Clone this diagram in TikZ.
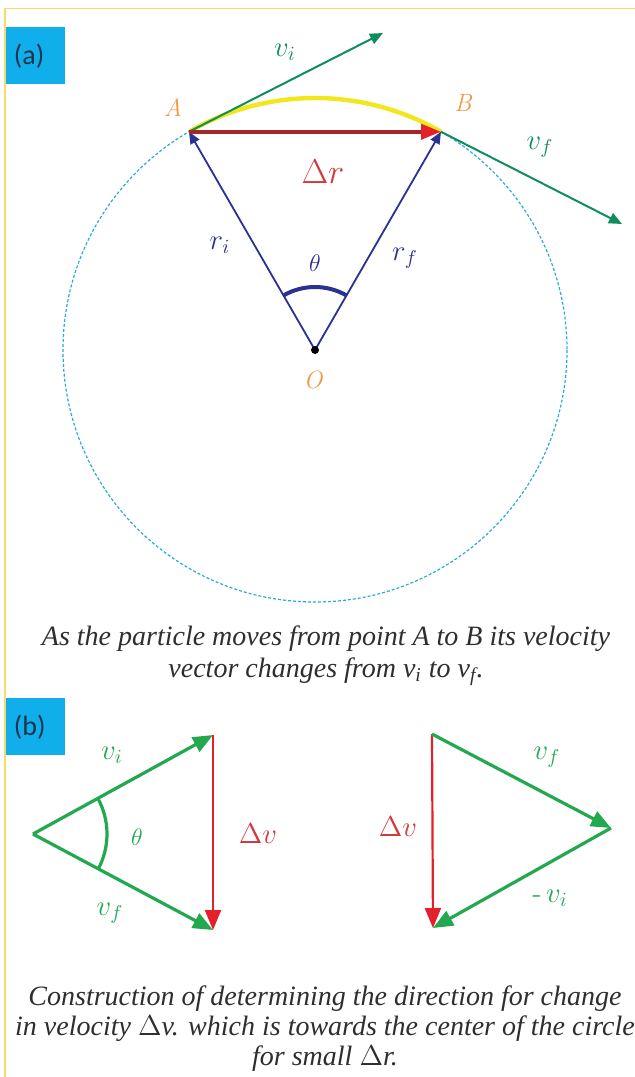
\documentclass[tikz,border=0pt]{standalone}
\usepackage{amsmath}
\usepackage{fontspec}
\newfontfamily\tagfont{Carlito}
\newfontfamily\capfont{Liberation Serif}
\usepackage{xcolor}
\definecolor{frameYellow}{HTML}{F3DC6B}
\definecolor{tagBlue}{HTML}{10AEEA}
\definecolor{tagInk}{HTML}{1B3550}
\definecolor{orbitBlue}{HTML}{2AA9DF}
\definecolor{velTeal}{HTML}{0E8E5C}
\definecolor{velGreen}{HTML}{22A84F}
\definecolor{radNavy}{HTML}{2B3190}
\definecolor{chordRed}{HTML}{A3262B}
\definecolor{headRed}{HTML}{E4202A}
\definecolor{txtRed}{HTML}{D2383C}
\definecolor{ptOrange}{HTML}{EE9A45}
\definecolor{pathYellow}{HTML}{F2E61C}
\definecolor{capGray}{HTML}{2E2E2E}
\usetikzlibrary{arrows.meta, positioning, calc}

\begin{document}
\begin{tikzpicture}[x=0.5pt, y=-0.5pt,
  tag/.style={fill=tagBlue, text=tagInk, font=\tagfont\fontsize{14}{16}\selectfont, anchor=north west, minimum width=29.5pt, minimum height=28.5pt, text width=22pt, align=left, inner xsep=3.5pt, inner ysep=0pt},
  ptlbl/.style={text=ptOrange, font=\fontsize{12.5}{14}\selectfont\itshape},
  vlbl/.style={text=velGreen, font=\fontsize{14}{16}\selectfont},
  rlbl/.style={text=radNavy, font=\fontsize{14}{16}\selectfont},
  dlbl/.style={text=txtRed, font=\fontsize{15}{17}\selectfont},
  captxt/.style={text=capGray, font=\capfont\fontsize{14}{16}\selectfont\itshape, align=center},
  orbit/.style={orbitBlue, line width=0.6pt, dash pattern=on 1.5pt off 1pt},
  vela/.style={velTeal, line width=1pt, -{Triangle[length=6.5pt, width=5.5pt]}},
  rad/.style={radNavy, line width=0.9pt, -{Triangle[length=6pt, width=5pt]}},
  velb/.style={velGreen, line width=1.6pt, -{Triangle[length=10pt, width=8pt]}},
  dvec/.style={headRed, line width=1.1pt, -{Triangle[length=10pt, width=8pt]}}
]
  \useasboundingbox (0,0) rectangle (635,1077);
  \draw[frameYellow, line width=0.8pt] (5,1077) -- (5,8.5) -- (635,8.5);

  \node[tag] (taga) at (6,27) {(a)};
  \coordinate (O) at (315,350);
  \coordinate (A) at ($(O)+(-120:252)$);
  \coordinate (B) at ($(O)+(-60:252)$);
  \coordinate (viEnd) at (383,33);
  \coordinate (vfEnd) at (622,224);

  \draw[orbit] (O) circle[radius=252];
  \draw[pathYellow, line width=2.2pt] (A) arc[start angle=-120, end angle=-60, radius=252];
  \draw[vela] (A) -- (viEnd);
  \draw[vela] (B) -- (vfEnd);
  \draw[rad] (O) -- (A);
  \draw[rad] (O) -- (B);
  \draw[chordRed, line width=2pt, -{Triangle[length=10pt, width=7.5pt, color=headRed]}] (A) -- (B);
  \draw[radNavy, line width=2pt] ($(O)+(-120:63)$) arc[start angle=-120, end angle=-60, radius=63];
  \fill (O) circle[radius=4];

  \node[ptlbl] (lblA) at (173,108) {A};
  \node[ptlbl] (lblB) at (463,103) {B};
  \node[ptlbl] (lblO) at (313,380) {O};
  \node[vlbl, text=velTeal] (lblvi) at (285,52) {$v_i$};
  \node[vlbl, text=velTeal] (lblvf) at (540,147) {$v_f$};
  \node[dlbl, font=\fontsize{17}{19}\selectfont] (lbldr) at (323,172) {$\Delta r$};
  \node[rlbl] (lblri) at (220,245) {$r_i$};
  \node[rlbl] (lblrf) at (405,258) {$r_f$};
  \node[rlbl, font=\fontsize{12}{14}\selectfont] (lblth) at (315,263) {$\theta$};

  \node[captxt] (capa) at (326,656) {As the particle moves from point A to B its velocity\\vector changes from v\textsubscript{i} to v\textsubscript{f}.};

  \node[tag] (tagb) at (6,698) {(b)};
  \coordinate (P) at (33,834);
  \coordinate (Q) at (213,735);
  \coordinate (R) at (213,930);
  \draw[velb] (P) -- (Q);
  \draw[velb] (P) -- (R);
  \draw[dvec] (Q) -- (R);
  \draw[velGreen, line width=1.6pt] ($(P)+(-29:74)$) arc[start angle=-29, end angle=28, radius=74];
  \node[vlbl] (lblvi2) at (112,755) {$v_i$};
  \node[vlbl] (lblvf2) at (110,913) {$v_f$};
  \node[vlbl, font=\fontsize{12}{14}\selectfont] (lblth2) at (137,837) {$\theta$};
  \node[dlbl] (lbldv) at (258,834) {$\Delta v$};

  \coordinate (T) at (432,734);
  \coordinate (S) at (611,828);
  \coordinate (U) at (433,928);
  \draw[dvec] (T) -- (U);
  \draw[velb] (T) -- (S);
  \draw[velb] (S) -- (U);
  \node[vlbl] (lblvf3) at (547,757) {$v_f$};
  \node[vlbl] (lblmvi) at (550,898) {$\text{-}\,v_i$};
  \node[dlbl] (lbldv2) at (398,827) {$\Delta v$};

  \node[captxt, font=\capfont\fontsize{14}{15}\selectfont\itshape] (capb) at (325,1029) {Construction of determining the direction for change\\in velocity $\Delta$v. which is towards the center of the circle\\for small $\Delta$r.};
\end{tikzpicture}
\end{document}
